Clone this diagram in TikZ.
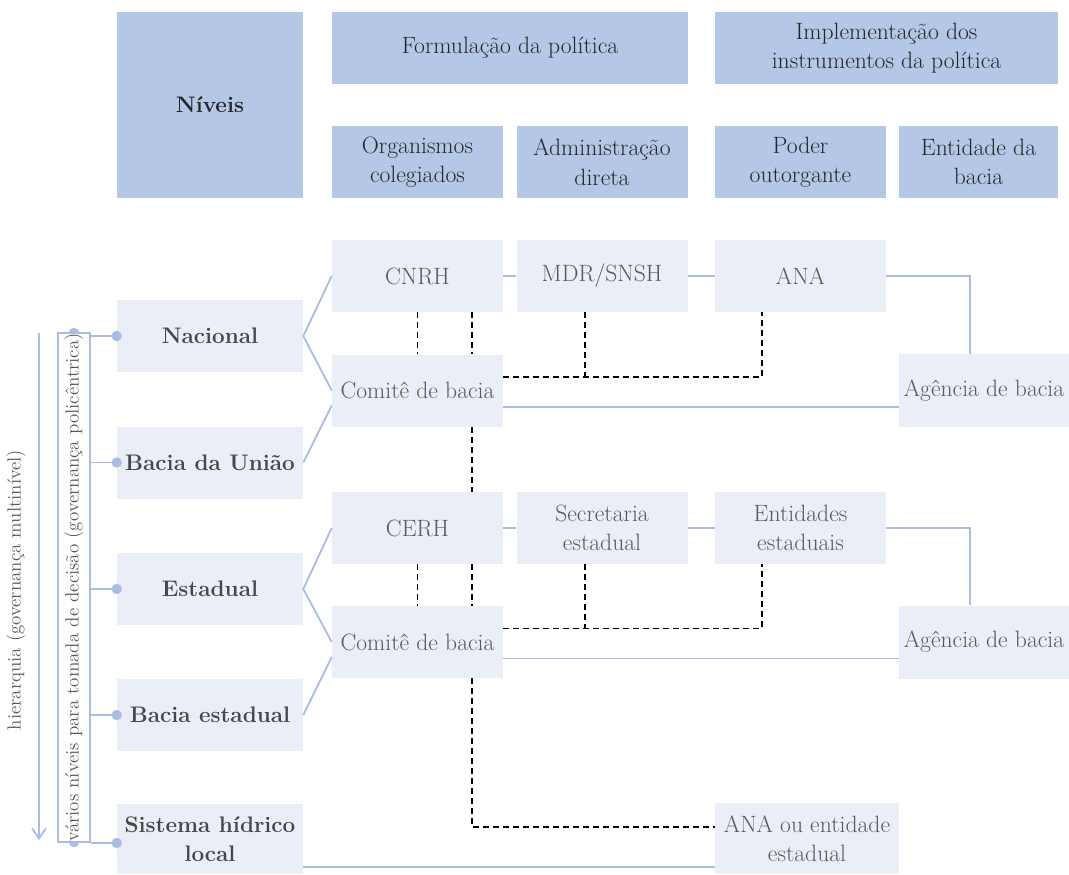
\documentclass[tikz,border=0pt]{standalone}
\usetikzlibrary{arrows.meta}
\definecolor{hdrblue}{HTML}{B4C7E7}
\definecolor{cellblue}{HTML}{E9EEF7}
\definecolor{lineblue}{HTML}{A9BDE3}
\definecolor{txtgray}{HTML}{595959}
\definecolor{txtdark}{HTML}{262626}

\begin{document}
\begin{tikzpicture}[x=0.25mm,y=-0.25mm,
  >={Straight Barb[length=2.5mm,width=3.5mm]},
  hdr/.style={fill=hdrblue,text=txtdark,align=center,inner sep=0pt,
    minimum width=42.75mm,minimum height=18mm,font=\fontsize{16.8}{21}\selectfont},
  cell/.style={fill=cellblue,text=txtgray,align=center,inner sep=0pt,
    minimum width=42.75mm,minimum height=18mm,font=\fontsize{16.8}{21}\selectfont},
  lvl/.style={cell,minimum width=46.5mm,text=txtdark!85,
    font=\fontsize{16}{21}\selectfont\bfseries},
  blu/.style={draw=lineblue,line width=1.3pt},
  dsh/.style={draw=black,line width=1pt,dash pattern=on 1.5mm off 1mm},
  side/.style={text=txtgray,rotate=90,font=\fontsize{13.5}{15}\selectfont}]

\useasboundingbox (0,0) rectangle (1069,874);

% header
\node[hdr,minimum width=46.5mm,minimum height=46.5mm,font=\fontsize{16}{21}\selectfont\bfseries] (niv) at (210,105) {Níveis};
\node[hdr,minimum width=89mm] (form) at (510,48) {Formulação da política};
\node[hdr,minimum width=85.75mm] (impl) at (886.5,48) {Implementação dos\\instrumentos da política};
\node[hdr] (org) at (417.5,162) {Organismos\\colegiados};
\node[hdr] (adm) at (602,162) {Administração\\direta};
\node[hdr] (pod) at (800.5,162) {Poder\\outorgante};
\node[hdr,minimum width=39.75mm] (entb) at (978.5,162) {Entidade da\\bacia};

% levels
\node[lvl] (nac) at (210,336) {Nacional};
\node[lvl] (buni) at (210,462.5) {Bacia da União};
\node[lvl] (est) at (210,589) {Estadual};
\node[lvl] (best) at (210,715) {Bacia estadual};
\node[lvl,minimum height=17.5mm] (sis) at (210,839) {Sistema hídrico\\local};

% national
\node[cell] (cnrh) at (417.5,276) {CNRH};
\node[cell] (mdr) at (602,276) {MDR/SNSH};
\node[cell] (ana) at (800.5,276) {ANA};
\node[cell] (com1) at (417.5,390.5) {Comitê de bacia};
\node[cell,minimum width=42.5mm,minimum height=18.25mm] (ag1) at (984,390.5) {Agência de bacia};

% state
\node[cell] (cerh) at (417.5,528) {CERH};
\node[cell] (sec) at (602,528) {Secretaria\\estadual};
\node[cell] (ent) at (800.5,528) {Entidades\\estaduais};
\node[cell] (com2) at (417.5,642) {Comitê de bacia};
\node[cell,minimum width=42.5mm,minimum height=18.25mm] (ag2) at (984,642) {Agência de bacia};

% local
\node[cell,minimum width=46mm,minimum height=17.75mm] (anaest) at (807,838.5) {ANA ou entidade\\estadual};

% left side
\draw[blu,->] (39,333) -- (39,840);
\node[side] (hier) at (16,590) {hierarquia (governança multinível)};
\fill[lineblue] (74,333) circle (1.3mm);
\fill[lineblue] (74,842) circle (1.3mm);
\node[side,draw=lineblue,line width=1.3pt,fill=white,inner sep=0pt,
  minimum width=127.25mm,minimum height=8mm] (brk) at (74,587.5)
  {vários níveis para tomada de decisão (governança policêntrica)};
\foreach \n in {nac,buni,est,best} {
  \draw[blu] (brk.south |- \n.west) -- (\n.west);
  \fill[lineblue] (\n.west) circle (1.3mm);
}
\draw[blu] (brk.south west) -- (brk.south west -| sis.west);
\fill[lineblue] (brk.south west -| sis.west) circle (1.3mm);

% solid links
\draw[blu] (cnrh) -- (mdr);
\draw[blu] (mdr) -- (ana);
\draw[blu] (ana.east) -| ([xshift=-3.5mm]ag1.north);
\draw[blu] ([yshift=-4.1mm]com1.east) -- ([yshift=-4.1mm]com1.east -| ag1.west);
\draw[blu] (cnrh.west) -- (nac.east) -- (com1.west);
\draw[blu] (buni.east) -- ([yshift=-3.75mm]com1.west);

\draw[blu] (cerh) -- (sec);
\draw[blu] (sec) -- (ent);
\draw[blu] (ent.east) -| ([xshift=-3.5mm]ag2.north);
\draw[blu] ([yshift=-4.1mm]com2.east) -- ([yshift=-4.1mm]com2.east -| ag2.west);
\draw[blu] (cerh.west) -- (est.east) -- (com2.west);
\draw[blu] (best.east) -- ([yshift=-3.75mm]com2.west);

\draw[blu] ([yshift=-7mm]sis.east) -- ([yshift=-7mm]sis.east -| anaest.west);

% dashed links
\draw[dsh] (cnrh.south) -- (com1.north);
\draw[dsh] ([xshift=13.6mm]cnrh.south) -- ([xshift=13.6mm]com1.north);
\coordinate (j1) at ([yshift=3.4mm]com1.east);
\draw[dsh] (j1) -| ([xshift=-9.6mm]ana.south);
\draw[dsh] ([xshift=-4.25mm]mdr.south) -- ([xshift=-4.25mm]mdr.south |- j1);
\draw[dsh] ([xshift=13.6mm]com1.south) -- ([xshift=13.6mm]cerh.north);

\draw[dsh] (cerh.south) -- (com2.north);
\draw[dsh] ([xshift=13.6mm]cerh.south) -- ([xshift=13.6mm]com2.north);
\coordinate (j2) at ([yshift=3.4mm]com2.east);
\draw[dsh] (j2) -| ([xshift=-9.6mm]ent.south);
\draw[dsh] ([xshift=-4.25mm]sec.south) -- ([xshift=-4.25mm]sec.south |- j2);

\draw[dsh] ([xshift=13.6mm]com2.south) |- ([yshift=2.9mm]anaest.west);
\end{tikzpicture}
\end{document}
